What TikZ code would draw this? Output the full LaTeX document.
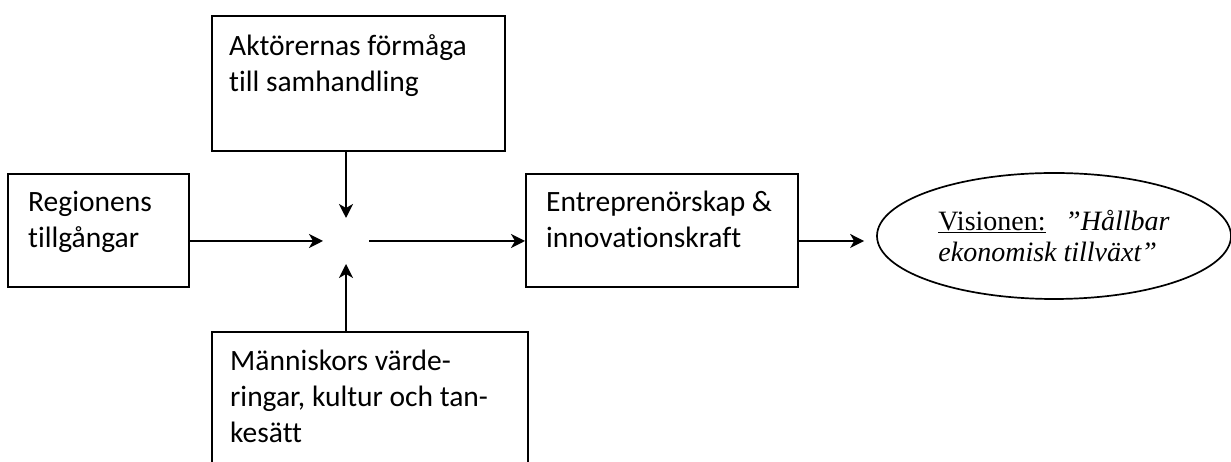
\documentclass[tikz,border=0pt]{standalone}
\usepackage{fontspec}
\setmainfont{Carlito}[Ligatures=NoCommon]
\newfontfamily\garafont{Liberation Serif}
\usetikzlibrary{shapes.geometric,arrows.meta}

\begin{document}
\begin{tikzpicture}[
    x=1pt, y=1pt,
    box/.style={draw, line width=1.7pt, anchor=north west, inner sep=0pt},
    txt/.style={anchor=north west, align=left, inner sep=0pt, font=\fontsize{29.5}{36}\selectfont},
    flow/.style={line width=1.7pt, -{Stealth[length=14pt, width=14pt, inset=4pt]}}
]
    \useasboundingbox (0,0) rectangle (1231,462);
    \clip (0,0) rectangle (1231,462);

    % Boxes
    \node[box, minimum width=181pt, minimum height=113pt] (lbox) at (7,289) {};
    \node[box, minimum width=293pt, minimum height=135pt] (tbox) at (211,447) {};
    \node[box, minimum width=272pt, minimum height=113pt] (mbox) at (525,289) {};
    \node[box, minimum width=316pt, minimum height=170pt] (bbox) at (211,131) {};

    % Box texts
    \node[txt] (ltext) at (28,271) {Regionens\\tillgångar};
    \node[txt] (ttext) at (229,428) {Aktörernas förmåga\\till samhandling};
    \node[txt] (mtext) at (546,271) {Entreprenörskap \&\\innovationskraft};
    \node[txt] (btext) at (230,112) {Människors värde-\\ringar, kultur och tan-\\kesätt};

    % Vision
    \node[draw, ellipse, line width=1.7pt, minimum width=354pt, minimum height=126pt,
          inner sep=0pt, align=left, font=\garafont\fontsize{28}{31}\selectfont]
          (vision) at (1054,226)
          {\underline{Visionen:}\hspace{0.7em}\textit{”Hållbar}\\\textit{ekonomisk tillväxt”}};

    % Meeting point
    \coordinate (hub) at (346,221);
    \coordinate (hubW) at (323,221);
    \coordinate (hubE) at (369,221);
    \coordinate (hubN) at (346,244);
    \coordinate (hubS) at (346,198);

    % Connectors
    \draw[flow] (lbox.east |- hubW) -- (hubW);
    \draw[flow] (tbox.south -| hubN) -- (hubN);
    \draw[flow] (bbox.north -| hubS) -- (hubS);
    \draw[flow] (hubE) -- (mbox.west |- hubE);
    \draw[flow, shorten >=12pt] (mbox.east |- hub) -- (vision.west |- hub);
\end{tikzpicture}
\end{document}
